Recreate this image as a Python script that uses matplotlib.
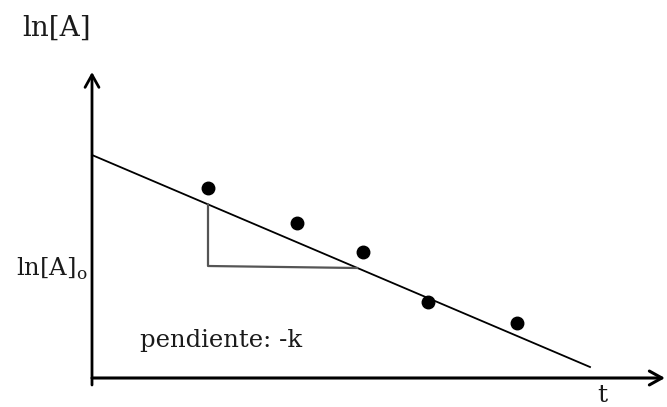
import matplotlib
matplotlib.use("Agg")
import matplotlib.pyplot as plt

# data (t, ln[A])
t_points = [1.16, 2.05, 2.71, 3.36, 4.25]
lnA_points = [1.90, 1.55, 1.26, 0.76, 0.55]
fit_t = [0.0, 4.98]
fit_lnA = [2.23, 0.11]
tri_t = [1.16, 1.16, 2.65]
tri_lnA = [1.735, 1.12, 1.10]

fig = plt.figure(figsize=(6.67, 4.07), dpi=100)
ax = fig.add_axes([0, 0, 1, 1])
ax.set_xlim(-0.92, 5.75)
ax.set_ylim(-0.29, 3.78)
ax.axis("off")

# axes with arrows
ax.annotate("", xy=(5.73, 0), xytext=(0, 0),
            arrowprops=dict(arrowstyle="->,head_length=0.9,head_width=0.5", lw=2.2, color="black",
                            shrinkA=0, shrinkB=0))
ax.annotate("", xy=(0, 3.06), xytext=(0, -0.07),
            arrowprops=dict(arrowstyle="->,head_length=0.9,head_width=0.5", lw=2.0, color="black",
                            shrinkA=0, shrinkB=0))

ax.plot(fit_t, fit_lnA, color="black", lw=1.3)
ax.plot(tri_t, tri_lnA, color="#555555", lw=1.6)
ax.plot(t_points, lnA_points, "o", color="black", markersize=9)

font = "DejaVu Serif"
col = "#1a1a1a"
ax.text(-0.35, 3.50, "ln[A]", fontsize=20, family=font, ha="center", va="center", color=col)
ax.text(-0.05, 1.09, r"ln[A]$_\mathregular{o}$", fontsize=17.5, family=font, ha="right", va="center", color=col)
ax.text(0.48, 0.37, "pendiente: -k", fontsize=17.5, family=font, ha="left", va="center", color=col)
ax.text(5.1, -0.17, "t", fontsize=18, family=font, ha="center", va="center", color=col)

fig.savefig("out.png", dpi=100)
